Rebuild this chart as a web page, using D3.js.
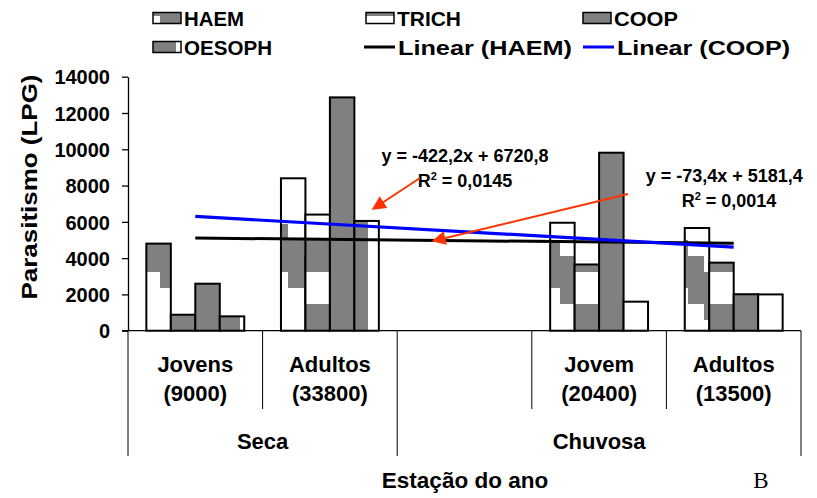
<!DOCTYPE html>
<html><head><meta charset="utf-8">
<script src="https://cdn.jsdelivr.net/npm/d3@7/dist/d3.min.js"></script>
<style>
html,body{margin:0;padding:0;background:#fff;}
svg{display:block;}
text{font-family:"Liberation Sans",Arial,sans-serif;font-weight:bold;fill:#000;}
</style>
</head><body>
<svg id="c" width="817" height="498"></svg>
<script>
// ---------------- data ----------------
const categories = ["Jovens|(9000)", "Adultos|(33800)", "", "Jovem|(20400)", "Adultos|(13500)"];
const seasons = ["Seca", "Chuvosa"];
const seasonSpans = [2, 3];
const seriesNames = ["HAEM", "TRICH", "COOP", "OESOPH"];
const HAEM   = [4800, 8400, 0, 5950, 5660];
const TRICH  = [880, 6400, 0, 3650, 3750];
const COOP   = [2590, 12860, 0, 9810, 2010];
const OESOPH = [790, 6050, 0, 1600, 2000];
const yTicks = [0, 2000, 4000, 6000, 8000, 10000, 12000, 14000];
const trendNames = ["Linear (HAEM)", "Linear (COOP)"];
const trendSlopes = [-73.4, -422.2];
const trendIntercepts = [5181.4, 6720.8];
const trendEq = ["y = -73,4x + 5181,4", "y = -422,2x + 6720,8"];
const trendR2 = ["0,0014", "0,0145"];

// ---------------- setup ----------------
const svg = d3.select("#c");
const plotLeft = 128, plotRight = 801, plotTop = 76.7, plotBottom = 330.7;
const x = d3.scaleBand().domain(d3.range(categories.length)).range([plotLeft, plotRight]).padding(0);
const bw = x.bandwidth();
const barW = bw / 5.5;
const xs = d3.scaleBand().domain(seriesNames).range([0.75 * barW, bw - 0.75 * barW]).padding(0);
const y = d3.scaleLinear().domain([0, 14000]).range([plotBottom, plotTop]);
const xNum = v => x(0) + bw / 2 + (v - 1) * bw; // numeric category position (1-based)

const GRAY = "#808080";
const defs = svg.append("defs");
// HAEM: wide downward diagonal (16px cells, 8x8 tile)
const pH = defs.append("pattern").attr("id", "pHAEM").attr("patternUnits", "userSpaceOnUse")
  .attr("x", 0).attr("y", 0).attr("width", 128).attr("height", 128);
pH.append("rect").attr("width", 128).attr("height", 128).attr("fill", "#fff");
for (let c = 0; c < 8; c++) for (const k of [5, 6, 7]) {
  pH.append("rect").attr("x", c * 16).attr("y", ((c + k) % 8) * 16).attr("width", 16).attr("height", 16).attr("fill", GRAY);
}
// TRICH: dark horizontal
const pT = defs.append("pattern").attr("id", "pTRICH").attr("patternUnits", "userSpaceOnUse")
  .attr("x", 0).attr("y", 0).attr("width", 64).attr("height", 64);
pT.append("rect").attr("width", 64).attr("height", 64).attr("fill", "#fff");
pT.append("rect").attr("y", 0).attr("width", 64).attr("height", 16).attr("fill", GRAY);
pT.append("rect").attr("y", 48).attr("width", 64).attr("height", 16).attr("fill", GRAY);
// OESOPH: dark vertical
const pO = defs.append("pattern").attr("id", "pOESOPH").attr("patternUnits", "userSpaceOnUse")
  .attr("x", 0).attr("y", 0).attr("width", 64).attr("height", 64);
pO.append("rect").attr("width", 64).attr("height", 64).attr("fill", "#fff");
pO.append("rect").attr("x", 16).attr("width", 32).attr("height", 64).attr("fill", GRAY);

const fills = { HAEM: "url(#pHAEM)", TRICH: "url(#pTRICH)", COOP: GRAY, OESOPH: "url(#pOESOPH)" };
const dataBy = { HAEM, TRICH, COOP, OESOPH };

// ---------------- axes ----------------
const yAxis = svg.append("g").attr("transform", `translate(${plotLeft},0)`)
  .call(d3.axisLeft(y).tickValues(yTicks).tickSize(6).tickSizeOuter(0).tickPadding(12).tickFormat(d3.format("d")));
yAxis.select(".domain").attr("stroke", "#000").attr("stroke-width", 1.3);
yAxis.selectAll(".tick line").attr("stroke", "#000").attr("stroke-width", 1.3);
yAxis.selectAll(".tick text").attr("font-size", 20).attr("font-family", "Liberation Sans").attr("font-weight", "bold").attr("fill", "#000")
  .attr("dy", "0.36em");

// ---------------- bars ----------------
const barData = [];
categories.forEach((c, i) => seriesNames.forEach(s => { if (dataBy[s][i] > 0) barData.push({ i, s, v: dataBy[s][i] }); }));
svg.append("g").selectAll("rect").data(barData).join("rect")
  .attr("x", d => x(d.i) + xs(d.s))
  .attr("y", d => y(d.v))
  .attr("width", xs.bandwidth())
  .attr("height", d => y(0) - y(d.v))
  .attr("fill", d => fills[d.s])
  .attr("stroke", "#000").attr("stroke-width", 2);

// x axis line
svg.append("line").attr("x1", plotLeft - 6).attr("x2", plotRight).attr("y1", y(0)).attr("y2", y(0))
  .attr("stroke", "#000").attr("stroke-width", 1.3);

// ---------------- trendlines ----------------
const trendColors = ["#000000", "#0000ff"];
const trendWidths = [3, 3.2];
trendNames.forEach((n, k) => {
  svg.append("line")
    .attr("x1", xNum(1)).attr("y1", y(trendIntercepts[k] + trendSlopes[k] * 1))
    .attr("x2", xNum(categories.length)).attr("y2", y(trendIntercepts[k] + trendSlopes[k] * categories.length))
    .attr("stroke", trendColors[k]).attr("stroke-width", trendWidths[k]);
});

// ---------------- category axis (multi-level) ----------------
const sepTop = y(0), row1Bottom = 409, row2Bottom = 456;
const catLines = svg.append("g").attr("stroke", "#000").attr("stroke-width", 1);
let cum = 0; const seasonBounds = [0];
seasonSpans.forEach(s => { cum += s; seasonBounds.push(cum); });
d3.range(categories.length + 1).forEach(i => {
  const xx = plotLeft + i * bw;
  const full = seasonBounds.includes(i);
  catLines.append("line").attr("x1", xx).attr("x2", xx).attr("y1", sepTop).attr("y2", full ? row2Bottom : row1Bottom);
});
categories.forEach((c, i) => {
  c.split("|").forEach((p, j) => {
    if (!p) return;
    svg.append("text").attr("x", x(i) + bw / 2).attr("y", 371.5 + j * 29).attr("text-anchor", "middle")
      .attr("font-size", 22).text(p);
  });
});
seasons.forEach((s, k) => {
  const a = seasonBounds[k], b = seasonBounds[k + 1];
  svg.append("text").attr("x", plotLeft + (a + b) / 2 * bw).attr("y", 449).attr("text-anchor", "middle")
    .attr("font-size", 22).text(s);
});

// axis titles
svg.append("text").attr("x", 465).attr("y", 488).attr("text-anchor", "middle").attr("font-size", 22.5).text("Estação do ano");
svg.append("text").attr("transform", "translate(37,187) rotate(-90)").attr("text-anchor", "middle").attr("font-size", 22)
  .attr("textLength", 225).attr("lengthAdjust", "spacingAndGlyphs").text("Parasitismo (LPG)");
svg.append("text").attr("x", 761).attr("y", 488).attr("text-anchor", "middle")
  .style("font-family", "'Liberation Serif', serif").style("font-weight", "normal").attr("font-size", 23).text("B");

// ---------------- equations & arrows ----------------
const ARROW = "#ff3300";
defs.append("marker").attr("id", "ah").attr("viewBox", "0 0 10 10").attr("refX", 9).attr("refY", 5)
  .attr("markerWidth", 8).attr("markerHeight", 7).attr("markerUnits", "strokeWidth").attr("orient", "auto")
  .append("path").attr("d", "M0,0 L10,5 L0,10 z").attr("fill", ARROW);
// annotation anchors in data space: [x (category units), value]
const eqPos = [[4.93, 8181], [3.004, 9317]];
const r2Pos = [[4.965, 6803], [3.004, 7938]];
const arrowFrom = [[4.215, 7536], [2.669, 8418]];
const arrowTo = [[2.766, 4945], [2.32, 6709]];
[0, 1].forEach(k => {
  svg.append("text").attr("x", xNum(eqPos[k][0])).attr("y", y(eqPos[k][1])).attr("text-anchor", "middle")
    .attr("font-size", 18).text(trendEq[k]);
  const t = svg.append("text").attr("x", xNum(r2Pos[k][0])).attr("y", y(r2Pos[k][1])).attr("text-anchor", "middle")
    .attr("font-size", 18);
  t.append("tspan").text("R");
  t.append("tspan").attr("font-size", 11).attr("dy", -7).text("2");
  t.append("tspan").attr("dy", 7).text(" = " + trendR2[k]);
  svg.append("line").attr("x1", xNum(arrowFrom[k][0])).attr("y1", y(arrowFrom[k][1]))
    .attr("x2", xNum(arrowTo[k][0])).attr("y2", y(arrowTo[k][1]))
    .attr("stroke", ARROW).attr("stroke-width", 2).attr("marker-end", "url(#ah)");
});

// ---------------- legend ----------------
const legendItems = [
  { name: "HAEM", type: "bar", fill: fills.HAEM, x: 153, y: 18, w: 60 },
  { name: "TRICH", type: "bar", fill: fills.TRICH, x: 366, y: 18, w: 64 },
  { name: "COOP", type: "bar", fill: fills.COOP, x: 583, y: 18, w: 64 },
  { name: "OESOPH", type: "bar", fill: fills.OESOPH, x: 153, y: 47, w: 88 },
  { name: trendNames[0], type: "line", color: trendColors[0], x: 364, y: 47, w: 174 },
  { name: trendNames[1], type: "line", color: trendColors[1], x: 583, y: 47, w: 173 }
];
const lg = svg.append("g");
legendItems.forEach(d => {
  if (d.type === "bar") {
    lg.append("rect").attr("x", d.x).attr("y", d.y - 5.5).attr("width", 28).attr("height", 11)
      .attr("fill", d.fill).attr("stroke", "#000").attr("stroke-width", 1.5);
  } else {
    lg.append("line").attr("x1", d.x).attr("x2", d.x + 31).attr("y1", d.y).attr("y2", d.y)
      .attr("stroke", d.color).attr("stroke-width", 3);
  }
  lg.append("text").attr("x", d.x + (d.type === "bar" ? 31 : 34)).attr("y", d.y + 7.5).attr("font-size", 21)
    .attr("textLength", d.w).attr("lengthAdjust", "spacingAndGlyphs").text(d.name);
});
</script>
</body></html>
